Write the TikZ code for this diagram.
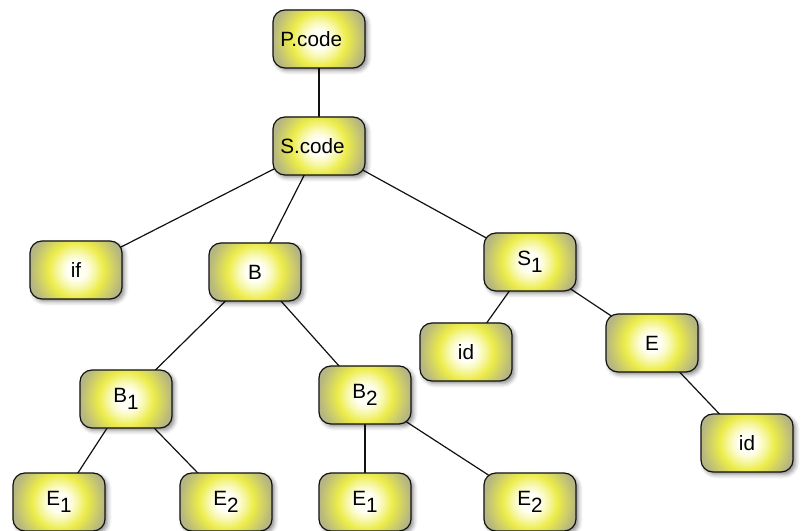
\documentclass[tikz,border=0pt]{standalone}
\usepackage{fontspec}
\setmainfont{Liberation Sans}
\usepackage{tikz}
\usepackage{xcolor}
\usetikzlibrary{backgrounds,shadows.blur}
\definecolor{glowcore}{HTML}{FFFFF6}
\definecolor{glowpale}{HTML}{F9F9B8}
\definecolor{glowmid}{HTML}{ECEC4A}
\definecolor{glowrim}{HTML}{B6B682}
\definecolor{ink}{HTML}{111111}
\pgfdeclareradialshading{nodeglow}{\pgfpoint{0bp}{0bp}}{%
  color(0bp)=(glowcore); color(5bp)=(glowcore); color(9bp)=(glowpale);
  color(15bp)=(glowmid); color(25bp)=(glowrim); color(50bp)=(glowrim)}
\newcommand{\lowsub}[1]{\raisebox{-0.36em}{#1}}
\tikzset{
  treenode/.style={draw=ink, line width=0.9pt, rounded corners=9pt,
                   fill=glowrim, minimum width=69pt, minimum height=43.5pt,
                   path picture={\shade[shading=nodeglow]
                     (path picture bounding box.center) circle (34.5pt);},
                   inner sep=0pt, font=\fontsize{15.5}{18}\selectfont,
                   blur shadow={shadow xshift=2pt, shadow yshift=-2pt,
                                shadow blur radius=3pt, shadow opacity=45}},
  codenode/.style={treenode, text width=58pt, align=left, inner xsep=5pt},
  branch/.style={draw=ink, line width=0.9pt}
}

\begin{document}
\begin{tikzpicture}[x=0.75pt,y=-0.75pt]
        \useasboundingbox (0,0) rectangle (804,531);

        \node[codenode] (pcode) at (319,39) {P.code};
        \node[codenode] (scode) at (319,146) {S.code};

        \node[treenode] (kwif) at (76,270) {if};
        \node[treenode] (bexp) at (255,272) {B};
        \node[treenode] (sone) at (530,262) {S\lowsub{1}};

        \node[treenode] (bone) at (126,399) {B\lowsub{1}};
        \node[treenode] (btwo) at (365,395) {B\lowsub{2}};
        \node[treenode] (idl) at (466,352) {id};
        \node[treenode] (expr) at (652,343) {E};
        \node[treenode] (idr) at (747,443) {id};

        \node[treenode] (eoneb) at (59,502) {E\lowsub{1}};
        \node[treenode] (etwob) at (226,502) {E\lowsub{2}};
        \node[treenode] (eonec) at (365,502) {E\lowsub{1}};
        \node[treenode] (etwoc) at (530,502) {E\lowsub{2}};

        \begin{scope}[on background layer]
          \draw[branch] (pcode.center) -- (scode.center);
          \draw[branch] (scode.center) -- (kwif.center);
          \draw[branch] (scode.center) -- (bexp.center);
          \draw[branch] (scode.center) -- (sone.center);
          \draw[branch] (bexp.center) -- (bone.center);
          \draw[branch] (bexp.center) -- (btwo.center);
          \draw[branch] (bone.center) -- (eoneb.center);
          \draw[branch] (bone.center) -- (etwob.center);
          \draw[branch] (btwo.center) -- (eonec.center);
          \draw[branch] (btwo.center) -- (etwoc.center);
          \draw[branch] (sone.center) -- (idl.center);
          \draw[branch] (sone.center) -- (expr.center);
          \draw[branch] (expr.center) -- (idr.center);
        \end{scope}
      \end{tikzpicture}
\end{document}
